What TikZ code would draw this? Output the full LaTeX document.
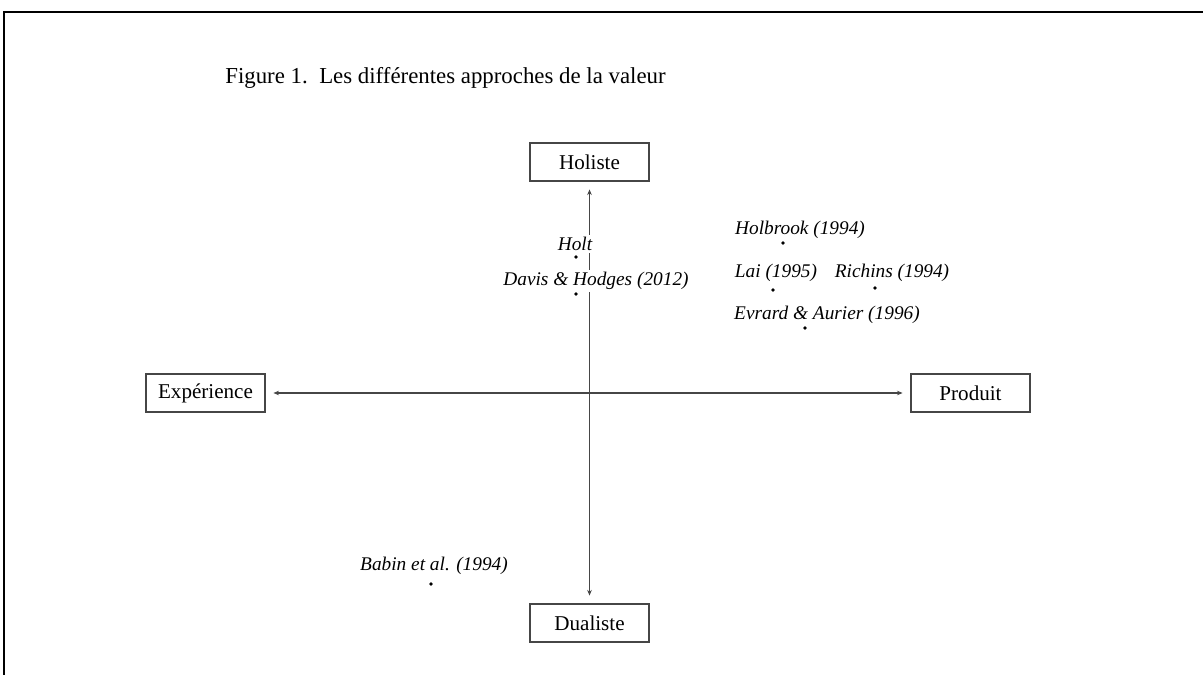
\documentclass[tikz,border=0pt]{standalone}
\usepackage{fontspec}
\setmainfont{Liberation Serif}
\usetikzlibrary{arrows.meta,positioning}
\definecolor{caxis}{RGB}{70,70,70}

\begin{document}
\begin{tikzpicture}[
    x=0.02cm, y=-0.02cm,
    >={Stealth[length=3.2pt,width=2.6pt]},
    pole/.style={
        rectangle,
        draw=caxis,
        line width=0.6pt,
        minimum width=2.38cm,
        minimum height=0.76cm,
        inner sep=0pt,
        font=\fontsize{12}{14}\selectfont
    },
    author/.style={
        fill=white,
        inner sep=1.5pt,
        font=\fontsize{11}{13}\selectfont\itshape
    },
    spot/.style={
        circle,
        fill=black,
        inner sep=0pt,
        minimum size=2.2pt
    },
    axis/.style={
        <->,
        line width=0.6pt,
        draw=caxis,
        shorten <=4.5pt,
        shorten >=4.5pt
    }
]
\useasboundingbox (0,0) rectangle (1203,675);

% Frame (cut at right and bottom)
\draw[line width=1.2pt] (4,675) -- (4,12) -- (1203,12);

% Title
\node[anchor=base west, inner sep=0pt, font=\fontsize{13}{15}\selectfont] (title) at (225,84)
    {Figure 1.\ \ Les différentes approches de la valeur};

% Poles
\node[pole] (holiste) at (589.5,162) {Holiste};
\node[pole] (dualiste) at (589.5,623) {Dualiste};
\node[pole] (experience) at (205.5,393) {Expérience};
\node[pole] (produit) at (970.5,393) {Produit};

% Axes
\draw[axis] (holiste) -- (dualiste);
\draw[axis] (experience) -- (produit);

% Authors
\node[author] (holt) at (575,244) {Holt};
\node[spot] (holtdot) at (576,257) {};
\node[author] (davis) at (596,281) {Davis \& Hodges (2012)};
\node[spot] (davisdot) at (576,294) {};

\node[author] (holbrook) at (800,230) {Holbrook (1994)};
\node[spot] (holbrookdot) at (783,243) {};
\node[author] (lai) at (776,273) {Lai (1995)};
\node[spot] (laidot) at (773,290) {};
\node[author] (richins) at (892,273) {Richins (1994)};
\node[spot] (richinsdot) at (875,288) {};
\node[author] (evrard) at (827,315) {Evrard \& Aurier (1996)};
\node[spot] (evrarddot) at (805,328) {};

\node[author] (babin) at (434,566) {Babin et al. (1994)};
\node[spot] (babindot) at (431,584) {};

\end{tikzpicture}
\end{document}
